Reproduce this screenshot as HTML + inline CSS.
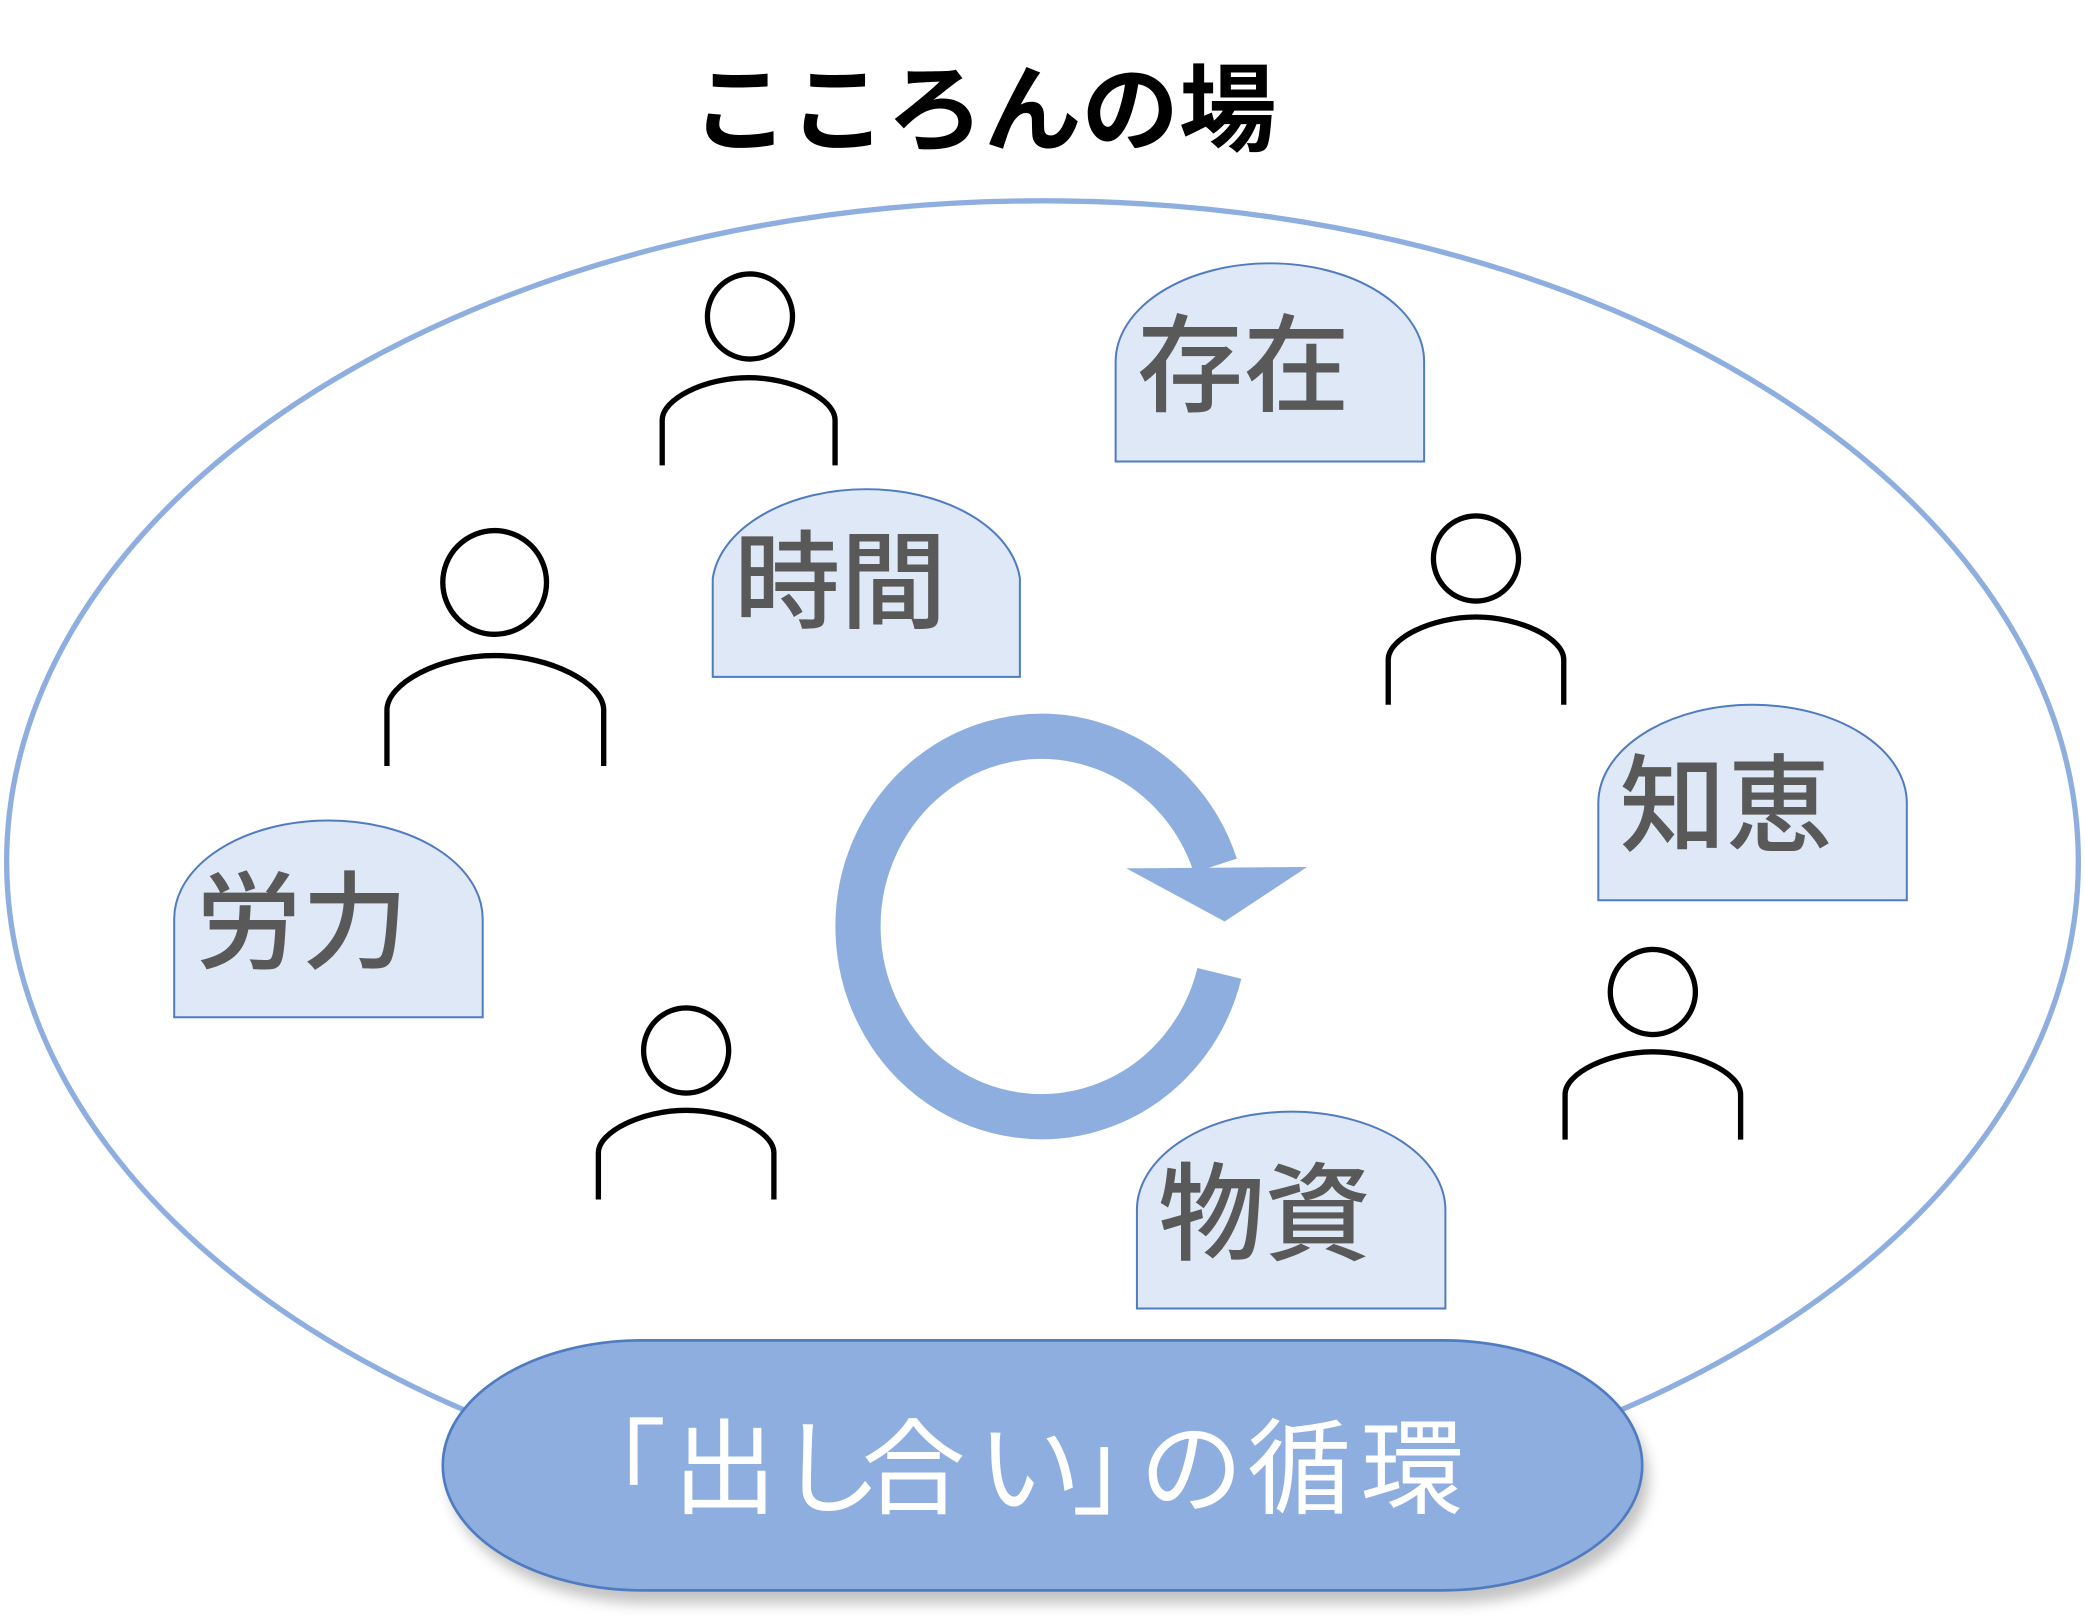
<!DOCTYPE html>
<html><head><meta charset="utf-8"><style>
html,body{margin:0;padding:0;background:#fff;}
svg{display:block;}
text{font-family:"Liberation Sans","Noto Sans CJK JP",sans-serif;}
</style></head><body>
<svg width="2085" height="1617" viewBox="0 0 1568 1216" xmlns="http://www.w3.org/2000/svg">
<defs>
<filter id="sh" x="-10%" y="-10%" width="120%" height="130%"><feGaussianBlur stdDeviation="5"/></filter>
</defs>
<text x="520" y="108" font-size="72" font-weight="bold" textLength="440" lengthAdjust="spacingAndGlyphs" fill="#000">こころんの場</text>
<ellipse cx="784" cy="648" rx="779" ry="497" fill="none" stroke="#8eaee0" stroke-width="4"/>

<g fill="#dfe8f7" stroke="#4f7bc0" stroke-width="1.5">
<path d="M839,347 V272 A116,74 0 0 1 1071,272 V347 Z"/>
<path d="M536,509 V435 A116,74 0 0 1 767,435 V509 Z"/>
<path d="M131,765 V691 A116,74 0 0 1 363,691 V765 Z"/>
<path d="M1202,677 V604 A116,74 0 0 1 1434,604 V677 Z"/>
<path d="M855,984 V910 A116,74 0 0 1 1087,910 V984 Z"/>
</g>
<g fill="#595959" font-size="80" font-weight="500">
<text x="855" y="303">存在</text>
<text x="552" y="466">時間</text>
<text x="147" y="722">労力</text>
<text x="1218" y="634">知恵</text>
<text x="871" y="941">物資</text>
</g>

<g fill="none" stroke="#000" stroke-width="4">
<circle cx="564" cy="238" r="32"/>
<path d="M498,350 V316 C498,300 530,284 563,284 C596,284 628,300 628,316 V350"/>
<circle cx="372" cy="438" r="39"/>
<path d="M291,576 V534 C291,514 330,493 372,493 C414,493 454,514 454,534 V576"/>
<circle cx="1110" cy="420" r="32"/>
<path d="M1044,530 V496 C1044,480 1077,464 1110,464 C1143,464 1176,480 1176,496 V530"/>
<circle cx="516" cy="790" r="32"/>
<path d="M450,902 V867 C450,851 483,835 516,835 C549,835 582,851 582,867 V902"/>
<circle cx="1243" cy="746" r="32"/>
<path d="M1177,857 V823 C1177,807 1210,791 1243,791 C1276,791 1309,807 1309,823 V857"/>
</g>

<path d="M917,732 A138,143 0 1 1 914,651" fill="none" stroke="#8eaee0" stroke-width="34"/>
<polygon points="847,653 983,652 921,693" fill="#8eaee0"/>

<rect x="338" y="1018" width="902" height="188" rx="150" ry="94" fill="#888" opacity="0.5" filter="url(#sh)"/>
<rect x="333" y="1008" width="902" height="188" rx="150" ry="94" fill="#8eaee0" stroke="#4f7bc0" stroke-width="2"/>
<text y="1132" font-size="78" fill="#fff"><tspan x="423">「</tspan><tspan x="506">出</tspan><tspan x="585">し</tspan><tspan x="648">合</tspan><tspan x="735">い</tspan><tspan x="806">」</tspan><tspan x="857">の</tspan><tspan x="938">循</tspan><tspan x="1023">環</tspan></text>
</svg>
</body></html>
